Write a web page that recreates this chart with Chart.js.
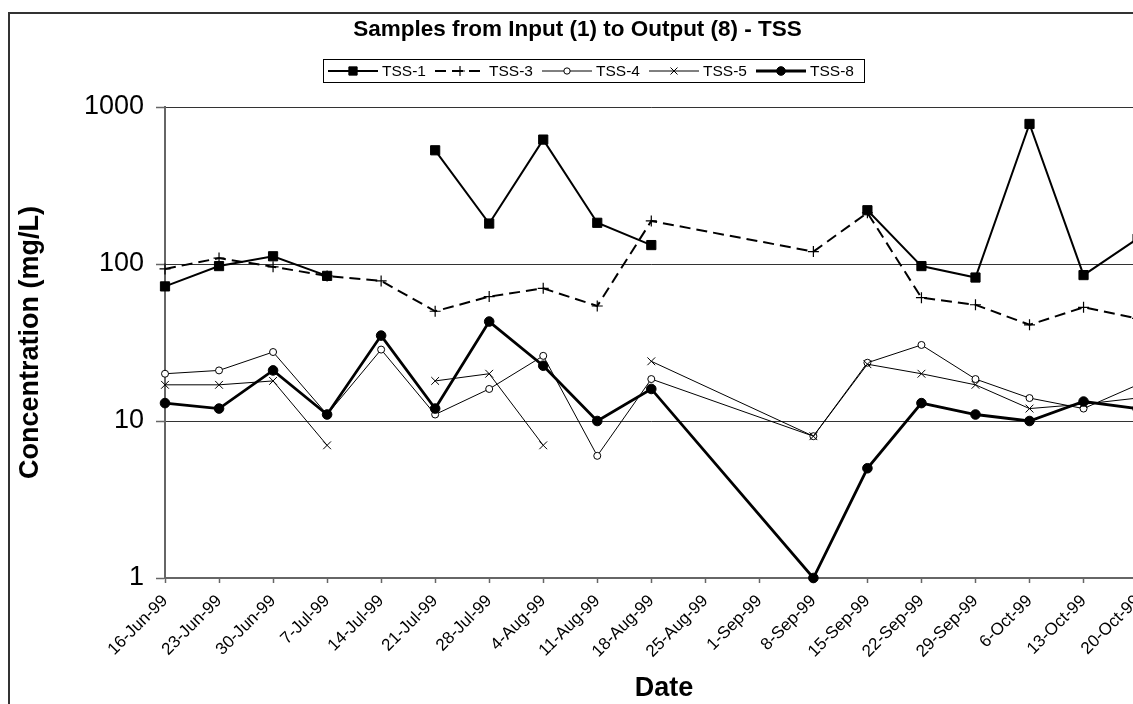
<!DOCTYPE html>
<html>
<head>
<meta charset="utf-8">
<title>Samples from Input (1) to Output (8) - TSS</title>
<script src="https://cdn.jsdelivr.net/npm/chart.js@4.4.1/dist/chart.umd.min.js"></script>
<style>
  html, body { margin: 0; padding: 0; background: #fff; overflow: hidden; }
  #wrap { position: absolute; left: 0; top: 0; width: 1160px; height: 720px; }
</style>
</head>
<body>
<div id="wrap"><canvas id="tssChart" width="1160" height="720"></canvas></div>
<script>
// ---- data ----
const sampleDates = ['16-Jun-99', '23-Jun-99', '30-Jun-99', '7-Jul-99', '14-Jul-99', '21-Jul-99',
  '28-Jul-99', '4-Aug-99', '11-Aug-99', '18-Aug-99', '8-Sep-99', '15-Sep-99', '22-Sep-99',
  '29-Sep-99', '6-Oct-99', '13-Oct-99', '20-Oct-99'];

// TSS (mg/L) per sampling point, null = not sampled
const tss1 = [72, 97, 112, 84, null, 530, 181, 620, 183, 132, null, 220, 97, 82, 780, 85, 145];
const tss3 = [93, 109, 96, 84, 78, 50, 62, 70, 54, 188, 120, 212, 61, 55, 41, 53, 45];
const tss4 = [20, 21, 27.5, 11, 28.5, 11, 16, 26, 6, 18.5, 8, 23.5, 30.5, 18.5, 14, 12, 17];
const tss5 = [17, 17, 18, 7, null, 18, 20, 7, null, 24, 8, 23, 20, 17, 12, 12.8, 14];
const tss8 = [13, 12, 21, 11, 35, 12, 43, 22.5, 10, 16, 1, 5, 13, 11, 10, 13.3, 12];

const dateTicks = ['16-Jun-99', '23-Jun-99', '30-Jun-99', '7-Jul-99', '14-Jul-99', '21-Jul-99',
  '28-Jul-99', '4-Aug-99', '11-Aug-99', '18-Aug-99', '25-Aug-99', '1-Sep-99', '8-Sep-99',
  '15-Sep-99', '22-Sep-99', '29-Sep-99', '6-Oct-99', '13-Oct-99', '20-Oct-99'];
const concTicks = [1, 10, 100, 1000];

const chartTitle = 'Samples from Input (1) to Output (8) - TSS';
const FONT = '"Liberation Sans", Arial, sans-serif';

// "16-Jun-99" -> day number
const MONTHS = ['Jan', 'Feb', 'Mar', 'Apr', 'May', 'Jun', 'Jul', 'Aug', 'Sep', 'Oct', 'Nov', 'Dec'];
function dayNumber(s) {
  const [d, m, y] = s.split('-');
  return Date.UTC(1900 + Number(y), MONTHS.indexOf(m), Number(d)) / 86400000;
}
const tickText = {};
dateTicks.forEach(t => { tickText[dayNumber(t)] = t; });

function series(values) {
  return sampleDates.map((d, i) => ({ x: dayNumber(d), y: values[i] }));
}

// ---- title, legend, frame (drawn like the spreadsheet chart) ----
const sheetDecor = {
  id: 'sheetDecor',
  afterDraw(chart) {
    const ctx = chart.ctx;
    ctx.save();

    // outer chart frame
    ctx.strokeStyle = '#333';
    ctx.lineWidth = 2;
    ctx.strokeRect(9, 13, 1300, 900);

    ctx.fillStyle = '#000';
    ctx.textBaseline = 'middle';
    ctx.textAlign = 'center';
    ctx.font = 'bold 22.5px ' + FONT;
    ctx.fillText(chartTitle, 577.5, 30);

    ctx.font = 'bold 27px ' + FONT;
    ctx.fillText('Date', 664, 689);

    // legend box
    ctx.lineWidth = 1;
    ctx.strokeStyle = '#000';
    ctx.strokeRect(323.5, 59.5, 541, 23);
    const yc = 71;
    chart.data.datasets.forEach((ds, i) => {
      const x0 = 328 + i * 107;
      ctx.save();
      ctx.strokeStyle = ds.borderColor;
      ctx.lineWidth = ds.borderWidth;
      ctx.setLineDash(ds.borderDash || []);
      ctx.beginPath();
      ctx.moveTo(x0, yc);
      ctx.lineTo(x0 + 50, yc);
      ctx.stroke();
      ctx.setLineDash([]);
      ctx.fillStyle = ds.pointBackgroundColor;
      ctx.strokeStyle = ds.pointBorderColor;
      ctx.lineWidth = ds.pointBorderWidth;
      Chart.helpers.drawPoint(ctx, {
        pointStyle: ds.pointStyle, radius: ds.pointRadius * 0.9,
        borderWidth: ds.pointBorderWidth, rotation: 0
      }, x0 + 25, yc);
      ctx.restore();
      ctx.fillStyle = '#000';
      ctx.textAlign = 'left';
      ctx.font = '15.5px ' + FONT;
      ctx.fillText(ds.label, x0 + 54, yc + 1);
    });

    ctx.restore();
  }
};

Chart.defaults.font.family = FONT;
Chart.defaults.color = '#000';

new Chart(document.getElementById('tssChart'), {
  type: 'line',
  data: {
    datasets: [
      {
        label: 'TSS-1', data: series(tss1), order: 5,
        borderColor: '#000', borderWidth: 2,
        pointStyle: 'rect', pointRadius: 6.5,
        pointBackgroundColor: '#000', pointBorderColor: '#000', pointBorderWidth: 1
      },
      {
        label: 'TSS-3', data: series(tss3), order: 4,
        borderColor: '#000', borderWidth: 2, borderDash: [11, 6],
        pointStyle: 'cross', pointRadius: 5.5,
        pointBackgroundColor: '#000', pointBorderColor: '#000', pointBorderWidth: 1.2
      },
      {
        label: 'TSS-4', data: series(tss4), order: 3,
        borderColor: '#000', borderWidth: 1,
        pointStyle: 'circle', pointRadius: 3.5,
        pointBackgroundColor: '#fff', pointBorderColor: '#000', pointBorderWidth: 1
      },
      {
        label: 'TSS-5', data: series(tss5), order: 2,
        borderColor: '#000', borderWidth: 1,
        pointStyle: 'crossRot', pointRadius: 5.5,
        pointBackgroundColor: '#000', pointBorderColor: '#000', pointBorderWidth: 1
      },
      {
        label: 'TSS-8', data: series(tss8), order: 1,
        borderColor: '#000', borderWidth: 2.8,
        pointStyle: 'circle', pointRadius: 4.8,
        pointBackgroundColor: '#000', pointBorderColor: '#000', pointBorderWidth: 1
      }
    ]
  },
  options: {
    responsive: false,
    maintainAspectRatio: false,
    devicePixelRatio: 1,
    animation: false,
    events: [],
    spanGaps: false,
    clip: false,
    elements: { line: { tension: 0 } },
    layout: { padding: { top: 107, left: 0, right: 21.5, bottom: 0 } },
    plugins: {
      legend: { display: false },
      title: { display: false },
      tooltip: { enabled: false }
    },
    scales: {
      x: {
        type: 'linear',
        min: dayNumber(dateTicks[0]),
        max: dayNumber(dateTicks[dateTicks.length - 1]),
        afterBuildTicks: scale => { scale.ticks = dateTicks.map(t => ({ value: dayNumber(t) })); },
        afterFit: scale => { scale.height = 142; },
        ticks: {
          autoSkip: false, maxRotation: 45, minRotation: 45, padding: 8,
          color: '#000', font: { size: 17 },
          callback: v => tickText[v] || ''
        },
        grid: { drawOnChartArea: false, tickLength: 5, tickColor: '#666', tickWidth: 1.5 },
        border: { color: '#666', width: 2 }
      },
      y: {
        type: 'logarithmic',
        min: 1,
        max: 1000,
        afterBuildTicks: scale => { scale.ticks = concTicks.map(v => ({ value: v })); },
        afterFit: scale => { scale.width = 165; },
        ticks: { color: '#000', font: { size: 27 }, padding: 12, callback: v => String(v) },
        grid: { color: '#333', lineWidth: 1, tickLength: 9, tickColor: '#666', tickWidth: 1.5 },
        border: { color: '#666', width: 2 },
        title: {
          display: true, text: 'Concentration (mg/L)', color: '#000',
          font: { size: 27, weight: 'bold' }, padding: { top: 14, bottom: 0 }
        }
      }
    }
  },
  plugins: [sheetDecor]
});
</script>
</body>
</html>
